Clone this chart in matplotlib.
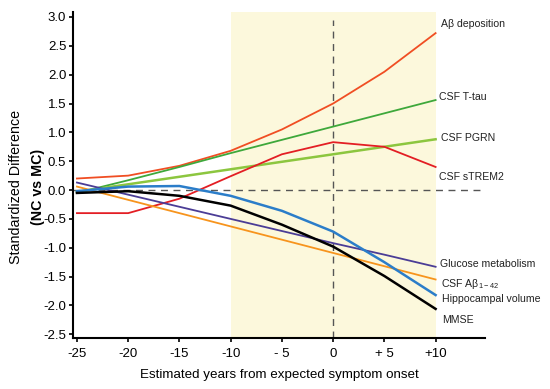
import matplotlib
matplotlib.use('Agg')
import matplotlib.pyplot as plt

plt.rcParams['font.family'] = ['Liberation Sans', 'DejaVu Sans']
plt.rcParams['mathtext.fontset'] = 'custom'
plt.rcParams['mathtext.rm'] = 'Liberation Sans'

# years from expected symptom onset
years = [-25, -20, -15, -10, -5, 0, 5, 10]

ab_deposition = [0.20, 0.25, 0.42, 0.68, 1.05, 1.50, 2.05, 2.72]
csf_ttau = [-0.05, 0.17, 0.40, 0.64, 0.87, 1.10, 1.33, 1.56]
csf_pgrn = [-0.03, 0.10, 0.23, 0.36, 0.49, 0.62, 0.75, 0.88]
csf_strem2 = [-0.40, -0.40, -0.15, 0.24, 0.62, 0.83, 0.75, 0.40]
glucose = [0.13, -0.08, -0.29, -0.50, -0.71, -0.92, -1.12, -1.33]
csf_ab42 = [0.06, -0.17, -0.40, -0.63, -0.86, -1.09, -1.32, -1.55]
hippocampal = [-0.02, 0.06, 0.07, -0.10, -0.36, -0.72, -1.25, -1.82]
mmse = [-0.05, -0.02, -0.10, -0.27, -0.60, -0.98, -1.49, -2.06]

xtick_labels = ['-25', '-20', '-15', '-10', '- 5', '0', '+ 5', '+10']
yticks = [-2.5, -2.0, -1.5, -1.0, -0.5, 0.0, 0.5, 1.0, 1.5, 2.0, 2.5, 3.0]

fig = plt.figure(figsize=(5.5, 3.89), dpi=100)
ax = fig.add_axes([0.133, 0.131, 0.749, 0.838])

ax.axvspan(-10, 10, color='#fcf8dc', zorder=0, lw=0)
ax.axhline(0, color='#555555', ls=(0, (5, 4)), lw=1.0, zorder=1)
ax.plot([0, 0], [-2.57, 2.95], color='#555555', ls=(0, (5, 4)), lw=1.0, zorder=1)

series = [
    (ab_deposition, '#f04e23', 1.3),
    (csf_ttau, '#3ea83b', 1.3),
    (csf_pgrn, '#8cc63f', 1.8),
    (csf_strem2, '#e31e24', 1.3),
    (glucose, '#4b3d96', 1.3),
    (csf_ab42, '#f7941d', 1.3),
    (hippocampal, '#2b7dc9', 1.8),
    (mmse, 'black', 1.8),
]
for vals, col, lw in series:
    ax.plot(years, vals, color=col, lw=lw, zorder=3)

# labels at right end
labels = [
    (10.55, 2.88, 'Aβ deposition'),
    (10.35, 1.62, 'CSF T-tau'),
    (10.55, 0.90, 'CSF PGRN'),
    (10.35, 0.22, 'CSF sTREM2'),
    (10.45, -1.28, 'Glucose metabolism'),
    (10.55, -1.62, r'CSF Aβ$_{\mathrm{1-42}}$'),
    (10.6, -1.88, 'Hippocampal volume'),
    (10.6, -2.25, 'MMSE'),
]
for x, y, t in labels:
    ax.text(x, y, t, fontsize=7.6, va='center', ha='left', color='#222222')

ax.set_xlim(-25.37, 14.83)
ax.set_ylim(-2.565, 3.085)
ax.set_xticks(years)
ax.set_xticklabels(xtick_labels)
ax.set_yticks(yticks)
ax.set_yticklabels([f'{v:.1f}' for v in yticks])
ax.tick_params(labelsize=9.5, length=3, width=1.2, color='black', pad=2)
ax.tick_params(axis='x', pad=4)
for s in ['top', 'right']:
    ax.spines[s].set_visible(False)
for s in ['left', 'bottom']:
    ax.spines[s].set_linewidth(1.5)

ax.set_xlabel('Estimated years from expected symptom onset', fontsize=9.6, labelpad=7)
fig.text(0.03, 0.52, 'Standardized Difference', rotation=90, fontsize=10.3,
         ha='center', va='center')
fig.text(0.069, 0.52, '(NC vs MC)', rotation=90, fontsize=10.3, fontweight='bold',
         ha='center', va='center')

fig.savefig('out.png', dpi=100)
